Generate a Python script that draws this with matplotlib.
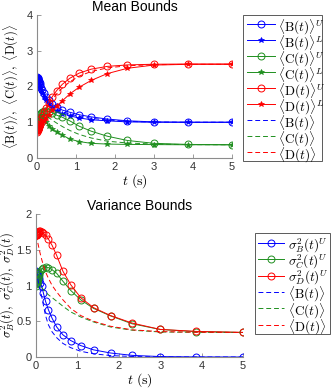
import matplotlib
matplotlib.use('Agg')
from matplotlib import pyplot as plt
from matplotlib.lines import Line2D
from matplotlib.patches import Rectangle

plt.rcParams['font.family'] = ['Liberation Sans', 'DejaVu Sans']
plt.rcParams['mathtext.fontset'] = 'cm'

# time grid (s)
t = [0, 0.011, 0.014, 0.018, 0.023, 0.030, 0.039, 0.050, 0.065, 0.084, 0.108,
     0.14, 0.18, 0.23, 0.30, 0.39, 0.50, 0.65, 0.84, 1.08, 1.39, 1.80, 2.32,
     3.0, 3.87, 5.0]

# mean bounds
B_up = [2.27, 2.25, 2.24, 2.23, 2.21, 2.19, 2.16, 2.13, 2.09, 2.03, 1.96, 1.89, 1.81,
        1.72, 1.61, 1.50, 1.42, 1.34, 1.28, 1.21, 1.15, 1.09, 1.04, 1.01, 1.0, 1.0]
B_lo = [2.27, 2.24, 2.23, 2.21, 2.19, 2.16, 2.13, 2.09, 2.04, 1.97, 1.89, 1.81, 1.71,
        1.61, 1.50, 1.40, 1.31, 1.24, 1.18, 1.12, 1.07, 1.04, 1.01, 1.0, 1.0, 1.0]
B_mean = [2.27, 2.245, 2.235, 2.22, 2.20, 2.175, 2.145, 2.11, 2.065, 2.0, 1.925, 1.85, 1.76,
          1.665, 1.555, 1.45, 1.365, 1.29, 1.23, 1.165, 1.11, 1.065, 1.025, 1.005, 1.0, 1.0]

C_up = [1.0, 1.03, 1.04, 1.05, 1.07, 1.09, 1.12, 1.15, 1.19, 1.23, 1.27, 1.30, 1.32,
        1.32, 1.30, 1.27, 1.20, 1.14, 1.04, 0.89, 0.75, 0.61, 0.49, 0.41, 0.38, 0.37]
C_lo = [1.0, 1.02, 1.03, 1.04, 1.05, 1.07, 1.09, 1.11, 1.13, 1.15, 1.15, 1.13, 1.08,
        1.01, 0.90, 0.82, 0.74, 0.64, 0.53, 0.46, 0.41, 0.39, 0.38, 0.375, 0.37, 0.37]
C_mean = [1.0, 1.025, 1.03, 1.045, 1.06, 1.08, 1.10, 1.13, 1.16, 1.19, 1.21, 1.22, 1.21,
          1.18, 1.13, 1.06, 0.98, 0.88, 0.77, 0.66, 0.56, 0.47, 0.42, 0.39, 0.375, 0.37]

D_up = [0.74, 0.778, 0.789, 0.802, 0.819, 0.842, 0.872, 0.906, 0.954, 1.012, 1.082, 1.171,
        1.275, 1.395, 1.545, 1.711, 1.88, 2.062, 2.23, 2.374, 2.485, 2.562, 2.604, 2.623,
        2.629, 2.63]
D_lo = [0.74, 0.76, 0.765, 0.77, 0.78, 0.79, 0.80, 0.82, 0.85, 0.88, 0.92, 0.98, 1.04,
        1.11, 1.21, 1.33, 1.45, 1.60, 1.79, 1.98, 2.17, 2.36, 2.51, 2.60, 2.62, 2.62]
D_mean = [0.74, 0.77, 0.78, 0.79, 0.81, 0.83, 0.86, 0.89, 0.93, 0.98, 1.04, 1.12, 1.22,
          1.33, 1.47, 1.63, 1.79, 1.96, 2.13, 2.29, 2.42, 2.52, 2.58, 2.61, 2.62, 2.62]

# variance bounds
varB_up = [1.20, 1.19, 1.185, 1.18, 1.17, 1.16, 1.15, 1.13, 1.11, 1.08, 1.04, 0.99, 0.89,
           0.78, 0.66, 0.54, 0.42, 0.31, 0.23, 0.16, 0.10, 0.056, 0.023, 0.006, 0.001, 0.0]
varC_up = [1.0, 1.02, 1.03, 1.04, 1.05, 1.07, 1.09, 1.11, 1.14, 1.17, 1.20, 1.23, 1.25,
           1.26, 1.25, 1.22, 1.17, 1.06, 0.93, 0.80, 0.68, 0.575, 0.465, 0.385, 0.355, 0.343]
varD_up = [1.70, 1.70, 1.71, 1.72, 1.72, 1.73, 1.74, 1.75, 1.755, 1.76, 1.76, 1.75, 1.73,
           1.70, 1.65, 1.56, 1.42, 1.20, 1.01, 0.83, 0.69, 0.58, 0.475, 0.386, 0.358, 0.344]
varB = [1.20, 1.18, 1.17, 1.16, 1.14, 1.12, 1.10, 1.07, 1.03, 0.98, 0.92, 0.84, 0.72,
        0.58, 0.45, 0.35, 0.27, 0.19, 0.13, 0.08, 0.045, 0.02, 0.007, 0.002, 0.0, 0.0]
varC = [1.0, 1.01, 1.01, 1.02, 1.02, 1.02, 1.02, 1.02, 1.01, 1.00, 0.99, 0.97, 0.94,
        0.91, 0.87, 0.83, 0.78, 0.71, 0.63, 0.56, 0.49, 0.42, 0.375, 0.35, 0.345, 0.343]
varD = [1.70, 1.69, 1.68, 1.67, 1.66, 1.64, 1.61, 1.58, 1.54, 1.49, 1.43, 1.36, 1.28,
        1.19, 1.10, 1.00, 0.91, 0.80, 0.68, 0.58, 0.50, 0.43, 0.38, 0.355, 0.347, 0.343]

blue, green, red = '#0000ff', '#1f8f1f', '#ff0000'
axis_gray = '#8c8c8c'
text_gray = '#333333'
dash = (5, 3)
lw = 0.7
ms = 5

W, H = 331, 389
fig = plt.figure(figsize=(3.31, 3.89), dpi=100)


def fx(px):
    return px / W


def fy(py):
    return 1 - py / H


def style_axes(ax):
    for s in ['top', 'right']:
        ax.spines[s].set_visible(False)
    for s in ['left', 'bottom']:
        ax.spines[s].set_color(axis_gray)
        ax.spines[s].set_linewidth(0.8)
    ax.tick_params(direction='in', length=3, width=0.6, colors=axis_gray,
                   labelcolor=text_gray, labelsize=8, pad=3)


def box_legend(ax, left, top, right, bottom, first, pitch, x1, x2, xt):
    # legend drawn by hand so the row pitch matches the reference
    fig.add_artist(Rectangle((fx(left), fy(bottom)), fx(right) - fx(left), fy(top) - fy(bottom),
                             transform=fig.transFigure, facecolor='white',
                             edgecolor='#404040', lw=0.6, zorder=5))
    handles, labels = ax.get_legend_handles_labels()
    for i, (h, lab) in enumerate(zip(handles, labels)):
        y = fy(first + i * pitch)
        ln = Line2D([fx(x1), fx(x2)], [y, y], color=h.get_color(), lw=h.get_linewidth(),
                    transform=fig.transFigure, zorder=6)
        if h.get_linestyle() == '--':
            ln.set_dashes(dash)
        fig.add_artist(ln)
        if h.get_marker() not in (None, 'None', ''):
            fig.add_artist(Line2D([(fx(x1) + fx(x2)) / 2], [y], ls='none', marker=h.get_marker(),
                                  ms=h.get_markersize(), mfc=h.get_markerfacecolor(),
                                  mec=h.get_markeredgecolor(), mew=h.get_markeredgewidth(),
                                  transform=fig.transFigure, zorder=7))
        fig.text(fx(xt), y, lab, fontsize=9.5, ha='left', va='center_baseline', zorder=7)


# top: mean bounds
ax1 = fig.add_axes([fx(37), fy(158), 195 / W, 143 / H])
ax1.plot(t, B_up, '-o', color=blue, lw=lw, ms=ms, mfc='none', mew=0.7, label=r'$\langle\mathrm{B}(t)\rangle^U$')
ax1.plot(t, B_lo, '-*', color=blue, lw=lw, ms=3.8, mew=0.5, label=r'$\langle\mathrm{B}(t)\rangle^L$')
ax1.plot(t, C_up, '-o', color=green, lw=lw, ms=ms, mfc='none', mew=0.7, label=r'$\langle\mathrm{C}(t)\rangle^U$')
ax1.plot(t, C_lo, '-*', color=green, lw=lw, ms=3.8, mew=0.5, label=r'$\langle\mathrm{C}(t)\rangle^L$')
ax1.plot(t, D_up, '-o', color=red, lw=lw, ms=ms, mfc='none', mew=0.7, label=r'$\langle\mathrm{D}(t)\rangle^U$')
ax1.plot(t, D_lo, '-*', color=red, lw=lw, ms=3.8, mew=0.5, label=r'$\langle\mathrm{D}(t)\rangle^L$')
ax1.plot(t, B_mean, '--', color=blue, lw=lw, dashes=dash, label=r'$\langle\mathrm{B}(t)\rangle$')
ax1.plot(t, C_mean, '--', color=green, lw=lw, dashes=dash, label=r'$\langle\mathrm{C}(t)\rangle$')
ax1.plot(t, D_mean, '--', color=red, lw=lw, dashes=dash, label=r'$\langle\mathrm{D}(t)\rangle$')
ax1.set_xlim(0, 5)
ax1.set_ylim(0, 4)
ax1.set_xticks([0, 1, 2, 3, 4, 5])
ax1.set_yticks([0, 1, 2, 3, 4])
style_axes(ax1)
ax1.set_title('Mean Bounds', fontsize=10, color='black', pad=3)
ax1.set_xlabel(r'$t\ \mathrm{(s)}$', fontsize=10, labelpad=0)
ax1.set_ylabel(r'$\langle\mathrm{B}(t)\rangle,\ \langle\mathrm{C}(t)\rangle,\ \langle\mathrm{D}(t)\rangle$',
               fontsize=9)
ax1.yaxis.set_label_coords(-0.08, 0.5)
box_legend(ax1, 243, 15, 322, 161, 24, 16.0, 247, 275, 278)

# bottom: variance bounds
ax2 = fig.add_axes([fx(36), fy(357), 207 / W, 143 / H])
ax2.plot(t, varB_up, '-o', color=blue, lw=lw, ms=ms, mfc='none', mew=0.7, label=r'$\sigma^2_B(t)^U$')
ax2.plot(t, varC_up, '-o', color=green, lw=lw, ms=ms, mfc='none', mew=0.7, label=r'$\sigma^2_C(t)^U$')
ax2.plot(t, varD_up, '-o', color=red, lw=lw, ms=ms, mfc='none', mew=0.7, label=r'$\sigma^2_D(t)^U$')
ax2.plot(t, varB, '--', color=blue, lw=lw, dashes=dash, label=r'$\langle\mathrm{B}(t)\rangle$')
ax2.plot(t, varC, '--', color=green, lw=lw, dashes=dash, label=r'$\langle\mathrm{C}(t)\rangle$')
ax2.plot(t, varD, '--', color=red, lw=lw, dashes=dash, label=r'$\langle\mathrm{D}(t)\rangle$')
ax2.set_xlim(0, 5)
ax2.set_ylim(0, 2)
ax2.set_xticks([0, 1, 2, 3, 4, 5])
ax2.set_yticks([0, 0.5, 1, 1.5, 2])
ax2.set_yticklabels(['0', '0.5', '1', '1.5', '2'])
style_axes(ax2)
ax2.set_title('Variance Bounds', fontsize=10, color='black', pad=3)
ax2.set_xlabel(r'$t\ \mathrm{(s)}$', fontsize=10, labelpad=0)
ax2.set_ylabel(r'$\sigma^2_B(t),\ \sigma^2_C(t),\ \sigma^2_D(t)$', fontsize=9)
ax2.yaxis.set_label_coords(-0.09, 0.5)
box_legend(ax2, 255, 233, 330, 334, 243, 16.3, 258, 284, 288)

fig.savefig('out.png', dpi=100)
